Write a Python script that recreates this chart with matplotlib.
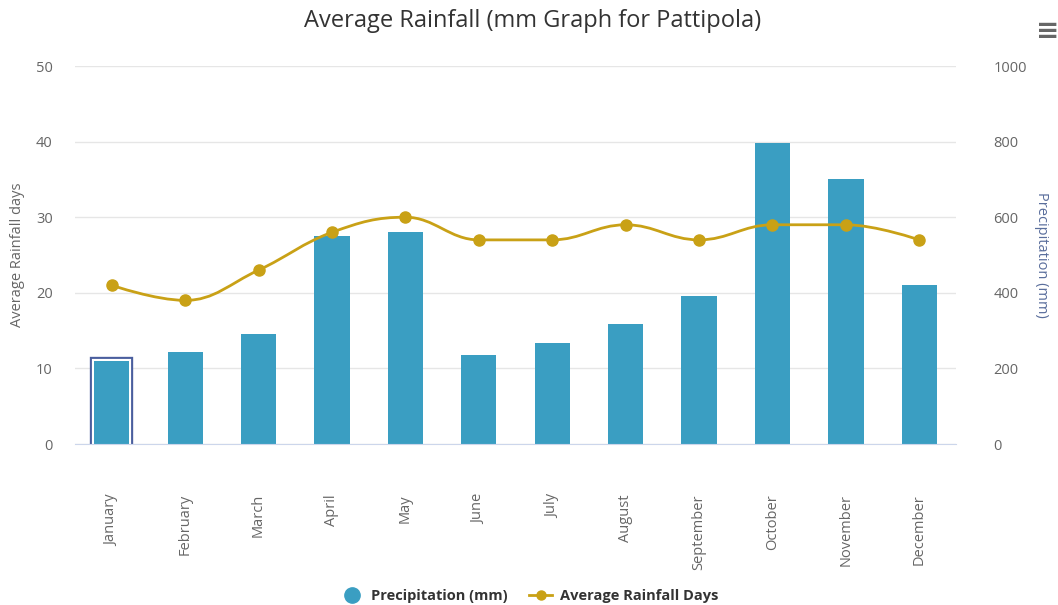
import numpy as np
import matplotlib
matplotlib.use("Agg")
import matplotlib.pyplot as plt
from matplotlib.path import Path
from matplotlib.patches import PathPatch
from matplotlib.lines import Line2D
import matplotlib.patheffects as pe

plt.rcParams['font.family'] = ['Open Sans', 'DejaVu Sans']

months = ["January", "February", "March", "April", "May", "June",
          "July", "August", "September", "October", "November", "December"]
precipitation = [220, 243, 290, 549, 562, 236, 267, 317, 391, 795, 702, 420]
rain_days = [21, 19, 23, 28, 30, 27, 27, 29, 27, 29, 29, 27]

bar_color = "#3a9ec2"
line_color = "#c9a116"
text_color = "#666666"


def spline_path(xs, ys, smoothing=1.5):
    # cubic bezier through points, same idea as the highcharts spline
    n = len(xs)
    verts = [(xs[0], ys[0])]
    codes = [Path.MOVETO]
    left = [None] * n
    right = [None] * n
    for i in range(1, n - 1):
        px, py = xs[i], ys[i]
        lx, ly = xs[i - 1], ys[i - 1]
        nx, ny = xs[i + 1], ys[i + 1]
        d = smoothing + 1
        lcx = (smoothing * px + lx) / d
        lcy = (smoothing * py + ly) / d
        rcx = (smoothing * px + nx) / d
        rcy = (smoothing * py + ny) / d
        if rcx != lcx:
            corr = (rcy - lcy) * (rcx - px) / (rcx - lcx) + py - rcy
            lcy += corr
            rcy += corr
        if lcy > ly and lcy > py:
            lcy = max(ly, py)
            rcy = 2 * py - lcy
        elif lcy < ly and lcy < py:
            lcy = min(ly, py)
            rcy = 2 * py - lcy
        if rcy > ny and rcy > py:
            rcy = max(ny, py)
            lcy = 2 * py - rcy
        elif rcy < ny and rcy < py:
            rcy = min(ny, py)
            lcy = 2 * py - rcy
        left[i] = (lcx, lcy)
        right[i] = (rcx, rcy)
    for i in range(1, n):
        c1 = right[i - 1] if right[i - 1] else (xs[i - 1], ys[i - 1])
        c2 = left[i] if left[i] else (xs[i], ys[i])
        verts += [c1, c2, (xs[i], ys[i])]
        codes += [Path.CURVE4] * 3
    return Path(verts, codes)


fig = plt.figure(figsize=(10.58, 6.05), dpi=100)
ax = fig.add_axes([0.0709, 0.2661, 0.8327, 0.6248])
ax2 = ax.twinx()

x = np.arange(len(months))

# bars on the right (precipitation) axis, drawn below the line axis
ax2.set_zorder(1)
ax.set_zorder(2)
ax.patch.set_visible(False)

bars = ax2.bar(x, precipitation, width=0.48, color=bar_color, zorder=2)
bars[0].set_path_effects([pe.Stroke(linewidth=6, foreground="#4a5e9e"),
                          pe.Stroke(linewidth=3, foreground="white"),
                          pe.Normal()])
ax2.set_ylim(0, 1000)
ax2.set_yticks(range(0, 1001, 200))

ax.add_patch(PathPatch(spline_path(list(x), rain_days), facecolor="none",
                       edgecolor=line_color, lw=2, zorder=3))
ax.plot(x, rain_days, "o", color=line_color, ms=8, zorder=4)
ax.set_ylim(0, 50)
ax.set_yticks(range(0, 51, 10))
ax.set_xlim(-0.5, len(months) - 0.5)

ax2.yaxis.grid(True, color="#e6e6e6", lw=1)
ax2.set_axisbelow(True)
for a in (ax, ax2):
    for s in a.spines.values():
        s.set_visible(False)
    a.tick_params(axis="y", length=0, labelsize=10.5, colors=text_color)
ax.spines["bottom"].set_visible(True)
ax.spines["bottom"].set_color("#ccd6eb")
ax.tick_params(axis="y", pad=16)
ax2.tick_params(axis="y", pad=27)

ax.set_xticks(x)
ax.set_xticklabels(months, rotation=90, ha="center", va="top",
                   fontsize=10.5, color=text_color)
ax.tick_params(axis="x", length=0, pad=36)

ax.set_ylabel("Average Rainfall days", fontsize=10.5, color=text_color, labelpad=8)
ax2.set_ylabel("Precipitation (mm)", fontsize=10.5, color="#5a6e9c",
               rotation=270, labelpad=16)

fig.text(0.503, 0.965, "Average Rainfall (mm Graph for Pattipola)",
         ha="center", va="center", fontsize=17, color="#333333")
fig.text(0.99, 0.948, "\u2261", ha="center", va="center", fontsize=20,
         color="#666666", family="DejaVu Sans", weight="bold")

handles = [Line2D([], [], marker="o", ls="none", color=bar_color, ms=11),
           Line2D([], [], marker="o", color=line_color, lw=2, ms=6.5)]
fig.legend(handles, ["Precipitation (mm)", "Average Rainfall Days"],
           loc="center", bbox_to_anchor=(0.5, 0.015), ncol=2, frameon=False,
           prop={"weight": "bold", "size": 10.5}, labelcolor="#333333",
           handlelength=1.6, columnspacing=1.5, handletextpad=0.5)

fig.savefig("out.png", dpi=100)
